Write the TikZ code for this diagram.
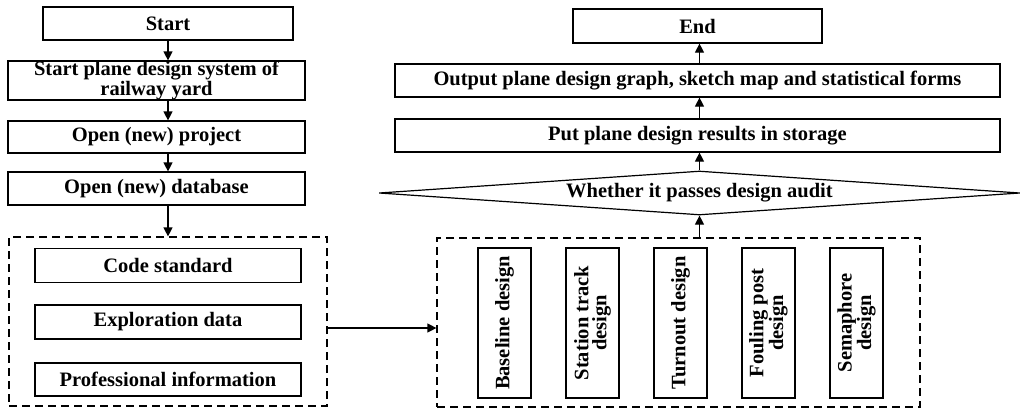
\documentclass[tikz,border=0pt]{standalone}
\usepackage{fontspec}
\setmainfont{Liberation Serif}
\usetikzlibrary{shapes.geometric,arrows.meta}

\begin{document}
\begin{tikzpicture}[x=1pt, y=-1pt, font=\fontsize{20.5}{18}\selectfont\bfseries]
            \tikzset{
                flowbox/.style = {rectangle, line width=1.2pt, draw=black, inner sep=0pt, align=center, minimum height=33pt},
                subbox/.style = {flowbox, minimum width=266pt, minimum height=34pt},
                vbox/.style = {flowbox, rotate=90, minimum width=150pt, minimum height=53pt},
                audit/.style = {diamond, line width=1.2pt, draw=black, inner sep=0pt, aspect=14.5, minimum width=641pt, minimum height=44pt},
                groupbox/.style = {rectangle, line width=1.2pt, draw=black, dash pattern=on 8pt off 5pt, minimum height=169pt},
                arrow/.style = {line width=1.2pt, ->, >={Triangle[length=9pt, width=9pt]}}
            }
            \useasboundingbox (0,0) rectangle (1021,408);

            % left column
            \node (start) [flowbox, minimum width=250pt] at (168,23.5) {Start};
            \node (sys) [flowbox, minimum width=297pt, minimum height=39pt] at (156.5,80.5) {Start plane design system of\\railway yard};
            \node (project) [flowbox, minimum width=297pt, minimum height=32pt] at (156.5,137) {Open (new) project};
            \node (database) [flowbox, minimum width=297pt] at (156.5,188.5) {Open (new) database};

            \node (lgroup) [groupbox, minimum width=318pt] at (168,321.5) {};
            \node (code) [subbox] at (168,265.5) {Code standard};
            \node (explore) [subbox] at (168,322) {Exploration data};
            \node (prof) [subbox, minimum height=33pt] at (168,379.5) {Professional information};

            \draw [arrow] (start.south) -- (start.south |- sys.north);
            \draw [arrow] (sys.south -| start) -- (project.north -| start);
            \draw [arrow] (project.south -| start) -- (database.north -| start);
            \draw [arrow] (database.south -| start) -- (lgroup.north);

            % right column
            \node (rgroup) [groupbox, minimum width=483pt] at (678.5,322.5) {};
            \node (baseline) [vbox] at (504.5,323) {Baseline design};
            \node (track) [vbox] at (592.5,323) {Station track\\design};
            \node (turnout) [vbox] at (680.5,323) {Turnout design};
            \node (fouling) [vbox] at (768.5,323) {Fouling post\\design};
            \node (semaphore) [vbox] at (856.5,323) {Semaphore\\design};

            \node (check) [audit] at (699.5,193) {Whether it passes design audit};
            \node (store) [flowbox, minimum width=605pt] at (697.5,135.5) {Put plane design results in storage};
            \node (output) [flowbox, minimum width=605pt] at (697.5,80.5) {Output plane design graph, sketch map and statistical forms};
            \node (end) [flowbox, minimum width=249pt, minimum height=34pt] at (697.5,26) {End};

            \draw [arrow] ([yshift=-6.5pt]lgroup.east) -- ([yshift=-6.5pt]lgroup.east -| rgroup.west);
            \draw [arrow] (check.south |- rgroup.north) -- (check.south);
            \draw [arrow] (check.north) -- (check.north |- store.south);
            \draw [arrow] (store.north -| check) -- (output.south -| check);
            \draw [arrow] (output.north -| check) -- (end.south -| check);

        \end{tikzpicture}
\end{document}
